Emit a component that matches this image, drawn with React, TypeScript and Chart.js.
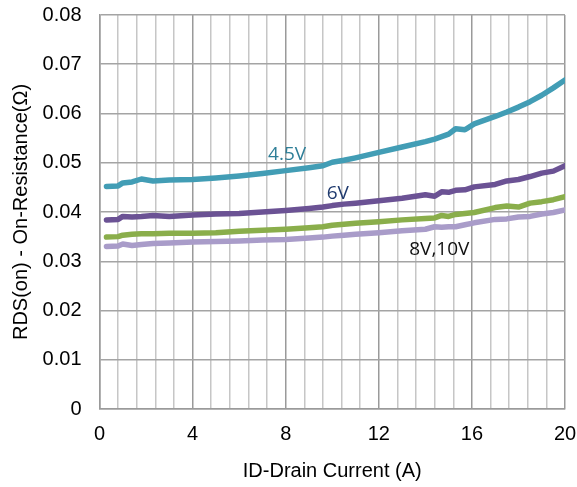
import React, { useEffect, useRef } from "react";
import { Chart, registerables } from "chart.js";

Chart.register(...registerables);

// Drain current (A)
const current = [0.3, 0.8, 1.0, 1.4, 1.8, 2.3, 3, 4, 5, 6, 7, 8, 9, 9.6, 10, 10.5, 11, 12, 13, 14, 14.4, 14.7, 15, 15.3, 15.7, 16.1, 17, 17.5, 18, 18.5, 19, 19.5, 20];

// RDS(on) (ohm) for each gate voltage
const vgs45 = [0.0452, 0.0453, 0.0459, 0.0461, 0.0467, 0.0463, 0.0465, 0.0466, 0.0469, 0.0473, 0.0478, 0.0484, 0.049, 0.0494, 0.0501, 0.0505, 0.051, 0.0521, 0.0532, 0.0543, 0.0548, 0.0553, 0.0558, 0.0569, 0.0567, 0.0579, 0.0594, 0.0603, 0.0613, 0.0624, 0.0637, 0.0652, 0.0668];
const vgs6 = [0.0384, 0.0385, 0.0391, 0.039, 0.0391, 0.0393, 0.0391, 0.0394, 0.0396, 0.0397, 0.04, 0.0403, 0.0407, 0.041, 0.0413, 0.0416, 0.0418, 0.0423, 0.0428, 0.0435, 0.0432, 0.0441, 0.044, 0.0444, 0.0445, 0.0451, 0.0456, 0.0463, 0.0466, 0.0472, 0.0479, 0.0483, 0.0494];
const vgs8 = [0.0349, 0.035, 0.0353, 0.0355, 0.0356, 0.0356, 0.0357, 0.0357, 0.0358, 0.0361, 0.0363, 0.0365, 0.0368, 0.037, 0.0373, 0.0375, 0.0377, 0.038, 0.0384, 0.0387, 0.0388, 0.0393, 0.0391, 0.0395, 0.0397, 0.0399, 0.0409, 0.0412, 0.041, 0.0418, 0.0421, 0.0425, 0.0431];
const vgs10 = [0.033, 0.0331, 0.0335, 0.0332, 0.0334, 0.0336, 0.0337, 0.0339, 0.034, 0.0341, 0.0343, 0.0344, 0.0347, 0.0349, 0.0351, 0.0353, 0.0355, 0.0358, 0.0362, 0.0365, 0.037, 0.0369, 0.037, 0.037, 0.0374, 0.0378, 0.0385, 0.0386, 0.039, 0.0391, 0.0396, 0.0399, 0.0404];

const seriesNames = ["4.5V", "6V", "8V", "10V"];
const xTickLabels = ["0", "4", "8", "12", "16", "20"];
const yTickLabels = ["0", "0.01", "0.02", "0.03", "0.04", "0.05", "0.06", "0.07", "0.08"];

// Curve labels (text, current, resistance)
const curveLabels = ["4.5V", "6V", "8V,10V"];
const curveLabelX = [8.06, 10.24, 14.6];
const curveLabelY = [0.0516, 0.0438, 0.0323];

const seriesColors = ["#429db5", "#6b5294", "#8aae4b", "#a99cc9"];
const labelColors = ["#2f7f98", "#1f3a6e", "#111111"];

const labelPlugin = {
  id: "curveLabels",
  afterDatasetsDraw(chart: any) {
    const { ctx, scales } = chart;
    ctx.save();
    ctx.font = "19px 'Open Sans', 'Noto Sans', sans-serif";
    ctx.textAlign = "center";
    ctx.textBaseline = "middle";
    curveLabels.forEach((t, i) => {
      ctx.fillStyle = labelColors[i];
      ctx.fillText(t, scales.x.getPixelForValue(curveLabelX[i]), scales.y.getPixelForValue(curveLabelY[i]));
    });
    ctx.restore();
  },
};

const isMajor = (v: number) => Math.abs(v / 4 - Math.round(v / 4)) < 1e-6;

export default function App() {
  const ref = useRef<HTMLCanvasElement | null>(null);
  useEffect(() => {
    if (!ref.current) return;
    const all = [vgs45, vgs6, vgs8, vgs10];
    const chart = new Chart(ref.current, {
      type: "line",
      data: {
        datasets: all.map((vals, i) => ({
          label: seriesNames[i],
          data: current.map((x, j) => ({ x, y: vals[j] })),
          borderColor: seriesColors[i],
          backgroundColor: seriesColors[i],
          borderWidth: 5.5,
          borderJoinStyle: "round",
          borderCapStyle: "round",
          pointRadius: 0,
          tension: 0,
          fill: false,
        })),
      },
      options: {
        animation: false,
        responsive: true,
        maintainAspectRatio: false,
        layout: { padding: { left: 0, top: 15, right: 12, bottom: 0 } },
        plugins: { legend: { display: false }, tooltip: { enabled: false } },
        font: { family: "'Liberation Sans', Arial, sans-serif" },
        scales: {
          x: {
            type: "linear",
            min: 0,
            max: 20,
            afterBuildTicks: (scale: any) => {
              const t = [];
              for (let i = 0; i <= 25; i++) t.push({ value: Math.round(i * 0.8 * 1000) / 1000 });
              scale.ticks = t;
            },
            afterFit: (scale: any) => {
              scale.height = 78;
              scale.paddingLeft = 0;
              scale.paddingRight = 0;
            },
            ticks: {
              autoSkip: false,
              maxRotation: 0,
              padding: 13,
              color: "#000",
              font: { size: 20, family: "'Liberation Sans', Arial, sans-serif" },
              callback: (v: any) => (isMajor(Number(v)) ? xTickLabels[Math.round(Number(v) / 4)] : ""),
            },
            grid: {
              drawTicks: false,
              lineWidth: 1.5,
              color: (c: any) => (c.tick && isMajor(c.tick.value) ? "#9a9a9a" : "#c6c6c6"),
            },
            border: { color: "#9a9a9a", width: 1.5 },
            title: {
              display: true,
              text: "ID-Drain Current (A)",
              color: "#000",
              font: { size: 20, family: "'Liberation Sans', Arial, sans-serif" },
              padding: { top: 0, bottom: 4 },
            },
          },
          y: {
            type: "linear",
            min: 0,
            max: 0.08,
            afterBuildTicks: (scale: any) => {
              scale.ticks = yTickLabels.map((_, i) => ({ value: i / 100 }));
            },
            afterFit: (scale: any) => {
              scale.width = 99.5;
              scale.paddingTop = 0;
              scale.paddingBottom = 0;
            },
            ticks: {
              padding: 18,
              color: "#000",
              font: { size: 20, family: "'Liberation Sans', Arial, sans-serif" },
              callback: (v: any) => yTickLabels[Math.round(Number(v) * 100)],
            },
            grid: { drawTicks: false, lineWidth: 1.5, color: "#a4a4a4" },
            border: { color: "#9a9a9a", width: 1.5 },
            title: {
              display: true,
              text: "RDS(on) - On-Resistance(Ω)",
              color: "#000",
              font: { size: 20, family: "'Liberation Sans', Arial, sans-serif" },
              padding: { top: 9, bottom: 0 },
            },
          },
        },
      } as any,
      plugins: [labelPlugin],
    });
    return () => chart.destroy();
  }, []);
  return (
    <div style={{ position: "absolute", left: 0, top: 0, width: 577, height: 487 }}>
      <canvas ref={ref} />
    </div>
  );
}
